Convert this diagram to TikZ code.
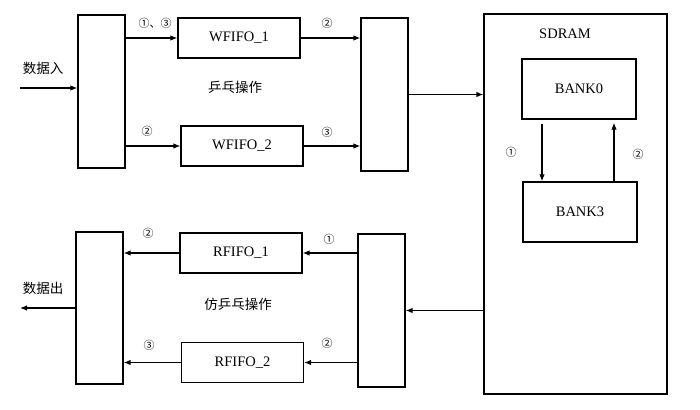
\documentclass[tikz,border=0pt]{standalone}
\usepackage{fontspec}
\setmainfont{Liberation Serif}
\newfontfamily\cjk{Noto Sans CJK SC}
\usetikzlibrary{arrows.meta}

\begin{document}
\begin{tikzpicture}[x=1pt,y=-1pt,
    blk/.style={draw,line width=1.2pt,inner sep=0pt},
    sel/.style={blk,minimum width=47pt,minimum height=153pt},
    fifo/.style={blk,minimum width=122pt,minimum height=40pt,font=\fontsize{14.5}{16}\selectfont},
    bank/.style={blk,minimum width=114pt,minimum height=60pt,font=\fontsize{14.5}{16}\selectfont},
    arr/.style={line width=1.2pt,-{Latex[length=7pt,width=5.5pt]}},
    num/.style={font=\cjk\fontsize{11}{11}\selectfont},
    hz/.style={font=\cjk\fontsize{13.5}{15}\selectfont}]
    \useasboundingbox (0,0) rectangle (700,409);
    % write side
    \node[sel] (wsel) at (101.5,91.5) {};
    \node[fifo] (wf1) at (239,38) {WFIFO\_1};
    \node[fifo] (wf2) at (242,146) {WFIFO\_2};
    \node[sel] (wmux) at (384.5,94.5) {};
    \node[hz] (din) at (43,68) {数据入};
    \node[hz] (pp) at (235,87) {乒乓操作};
    \coordinate (inc) at (20,88);
    \draw[arr] (inc) -- (wsel.west |- inc);
    \draw[arr] (wsel.east |- wf1) -- (wf1.west);
    \draw[arr] (wsel.east |- wf2) -- (wf2.west);
    \draw[arr] (wf1.east) -- (wmux.west |- wf1);
    \draw[arr] (wf2.east) -- (wmux.west |- wf2);
    \node[num] (n13) at (155,23) {①、③};
    \node[num] (n2a) at (147,131) {②};
    \node[num] (n2b) at (327,23) {②};
    \node[num] (n3a) at (327,132) {③};
    % sdram
    \node[blk,minimum width=183pt,minimum height=380pt] (sdram) at (575.5,204) {};
    \node[font=\fontsize{14.5}{16}\selectfont] (sdlbl) at (565,34) {SDRAM};
    \node[bank] (bank0) at (579,89) {BANK0};
    \node[bank] (bank3) at (580,212) {BANK3};
    \draw[arr] ([xshift=-37pt,yshift=-4pt]bank0.south) -- ([xshift=-37pt]bank0.south |- bank3.north);
    \draw[arr] ([xshift=34pt]bank3.north) -- ([xshift=34pt,yshift=-3pt]bank3.north |- bank0.south);
    \node[num] (n1c) at (511,152) {①};
    \node[num] (n2c) at (638,154) {②};
    \draw[arr] (wmux.east) -- (sdram.west |- wmux);
    % read side
    \node[sel] (rmux) at (381.5,310.5) {};
    \node[fifo] (rf1) at (241,253) {RFIFO\_1};
    \node[fifo] (rf2) at (242.5,362.5) {RFIFO\_2};
    \node[sel,minimum height=152pt] (osel) at (99.5,308) {};
    \node[hz] (dout) at (43,288) {数据出};
    \node[hz] (fpp) at (238,304) {仿乒乓操作};
    \coordinate (outc) at (20,308);
    \draw[arr] (sdram.west |- rmux) -- (rmux.east);
    \draw[arr] (rmux.west |- rf1) -- (rf1.east);
    \draw[arr] (rmux.west |- rf2) -- (rf2.east);
    \draw[arr] (rf1.west) -- (osel.east |- rf1);
    \draw[arr] (rf2.west) -- (osel.east |- rf2);
    \draw[arr] (osel.west) -- (outc);
    \node[num] (n1d) at (329,239) {①};
    \node[num] (n2d) at (327,343) {②};
    \node[num] (n2e) at (148,233) {②};
    \node[num] (n3b) at (149,345) {③};
\end{tikzpicture}
\end{document}
